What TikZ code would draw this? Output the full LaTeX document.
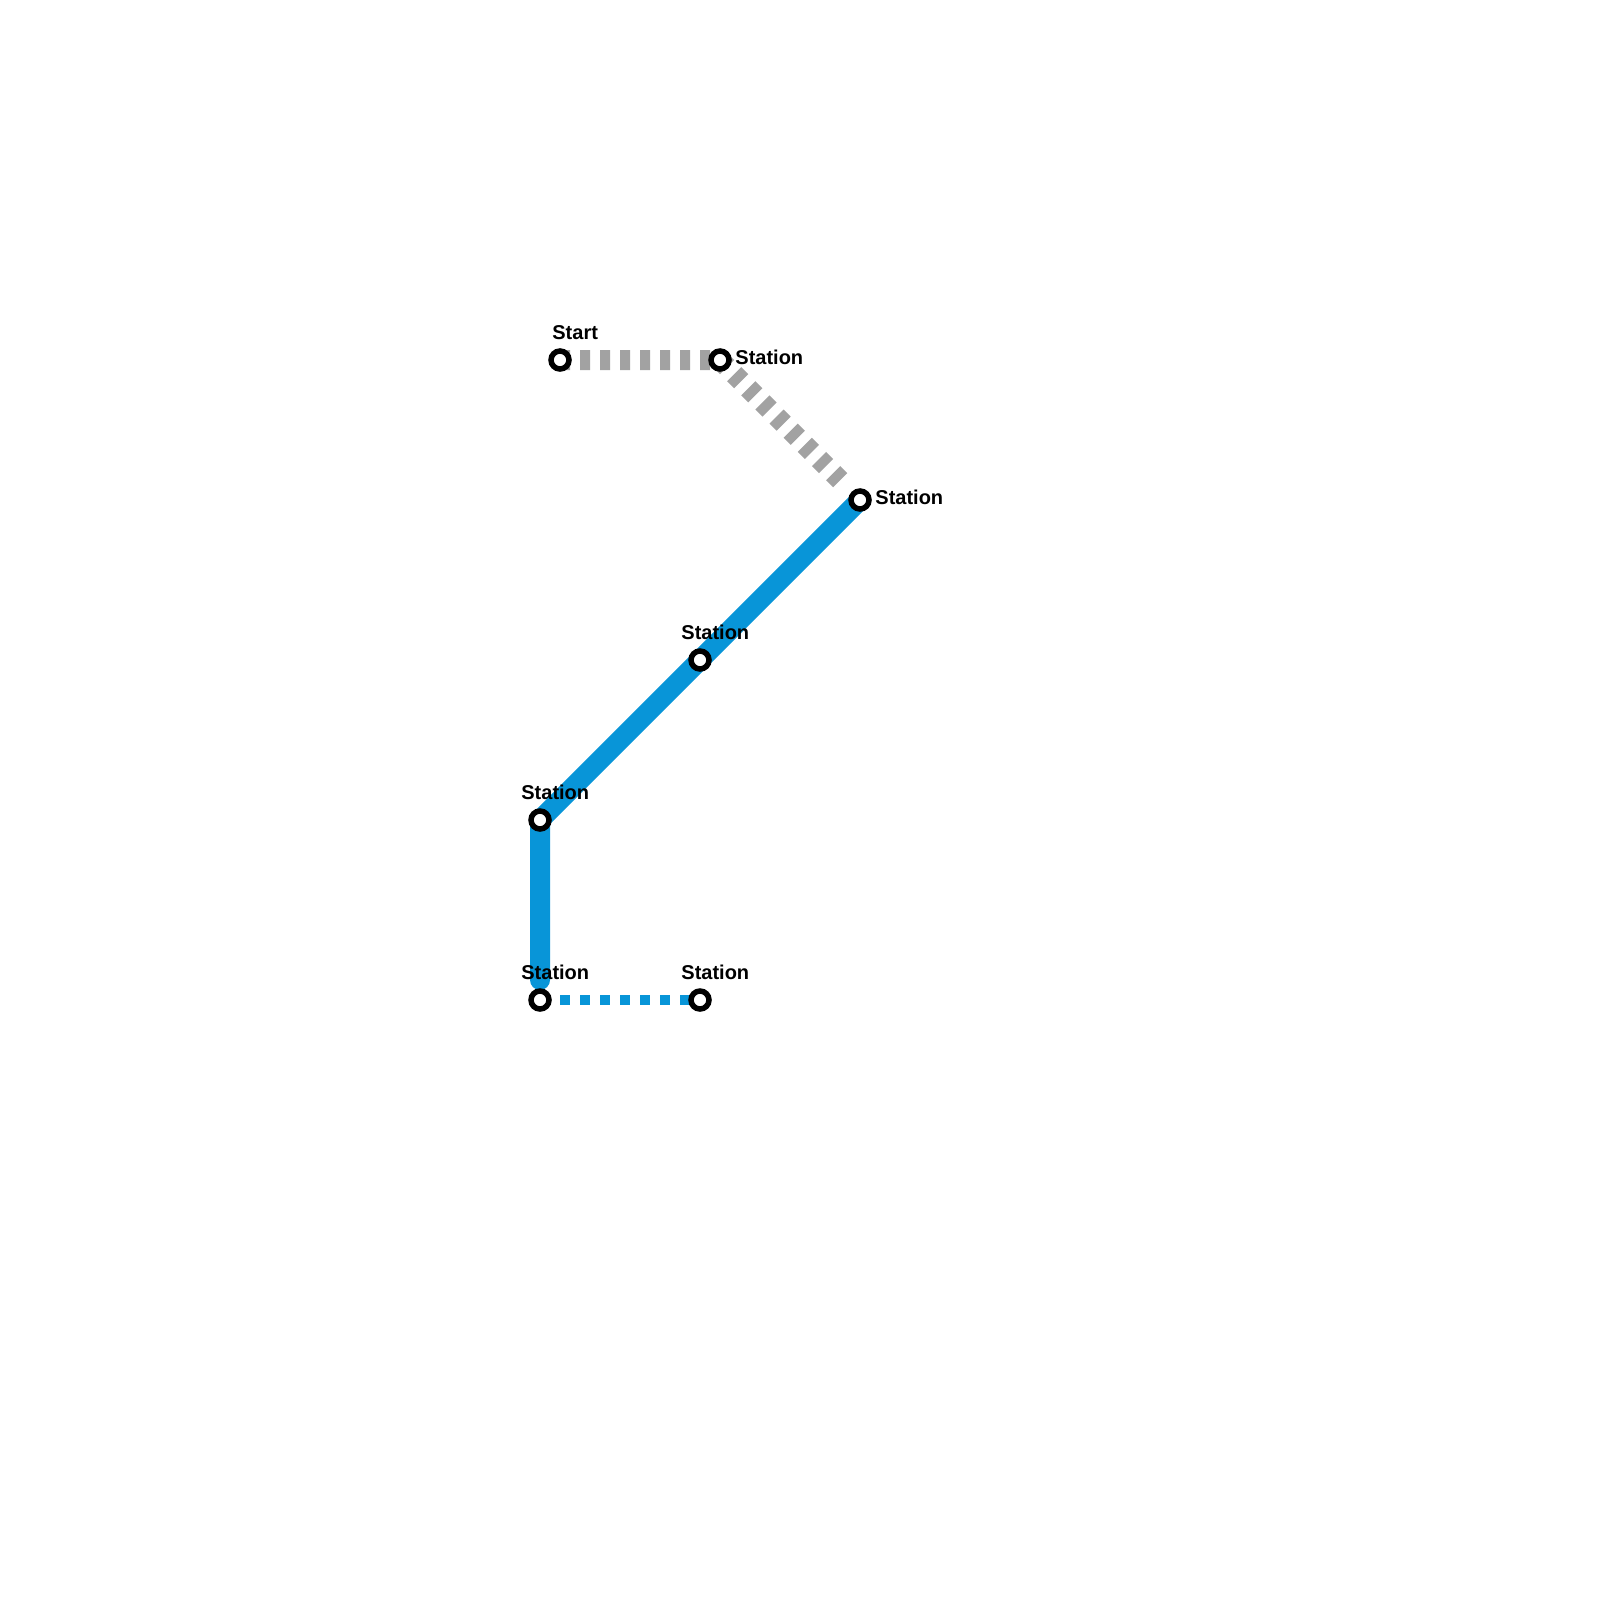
\documentclass[tikz,border=0pt]{standalone}
\usepackage{fontspec}
\setmainfont{Liberation Sans}
\usetikzlibrary{backgrounds}
\definecolor{lineblue}{HTML}{0895D8}
\definecolor{linegrey}{HTML}{A2A2A2}
\tikzset{
  x=0.5pt,y=-0.5pt,
  stationdot/.style={circle,draw=black,fill=white,line width=2.75pt,minimum size=9pt,inner sep=0pt,outer sep=0pt},
  stationlabel/.style={anchor=base west,inner sep=0pt,font=\fontsize{10pt}{12pt}\selectfont\bfseries,text=black},
  solidline/.style={draw=lineblue,line width=10pt,line cap=round,line join=round,shorten >=10pt},
  dotline/.style={draw=lineblue,line width=5pt,dash pattern=on 5pt off 5pt},
  greydash/.style={draw=linegrey,line width=10pt,dash pattern=on 5pt off 5pt,shorten >=10pt}
}
\begin{document}
\begin{tikzpicture}
\useasboundingbox (0,0) rectangle (1600,1600);
\node[stationdot] (s1) at (560,360) {};
\node[stationdot] (s2) at (720,360) {};
\node[stationdot] (s3) at (860,500) {};
\node[stationdot] (s4) at (700,660) {};
\node[stationdot] (s5) at (540,820) {};
\node[stationdot] (s6) at (540,1000) {};
\node[stationdot] (s7) at (700,1000) {};
\node[stationlabel] (l1) at (552,339.5) {Start};
\node[stationlabel] (l2) at (735,364.5) {Station};
\node[stationlabel] (l3) at (875,504.5) {Station};
\node[stationlabel] (l4) at (681,639.5) {Station};
\node[stationlabel] (l5) at (521,799.5) {Station};
\node[stationlabel] (l6) at (521,979.5) {Station};
\node[stationlabel] (l7) at (681,979.5) {Station};
\begin{scope}[on background layer]
\fill[white] (0,0) rectangle (1600,1600);
\draw[greydash] (s1.center) -- (s2.center) -- (s3.center);
\draw[solidline] (s3.center) -- (s4.center) -- (s5.center) -- (s6.center);
\draw[dotline] (s6.center) -- (s7.center);
\end{scope}
\end{tikzpicture}
\end{document}
